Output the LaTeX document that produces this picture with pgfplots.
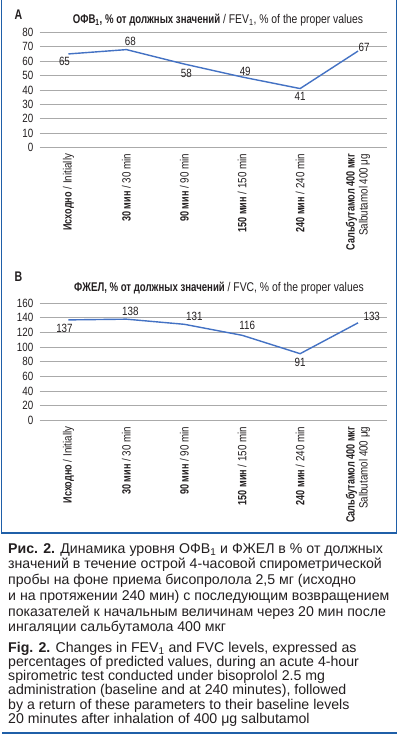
\documentclass[border=0pt]{standalone}
\usepackage{fontspec}
\usepackage{pgfplots}
\pgfplotsset{compat=1.18}
\setmainfont{Liberation Sans}
\newfontfamily\narrow{Liberation Sans}[FakeStretch=0.82, BoldFeatures={FakeStretch=0.76}]
\definecolor{lineblue}{HTML}{4472C4}
\definecolor{frameblue}{HTML}{1F5FA8}
\definecolor{gridgray}{HTML}{AAAAAA}
\definecolor{txt}{HTML}{231F20}

\newcommand{\tickfont}{\narrow\fontsize{12}{13}\selectfont}
\pgfplotsset{
  panel/.style={
    scale only axis, width=347.5bp,
    xmin=-0.5, xmax=5.5,
    axis line style={draw=none},
    ymajorgrids, major grid style={gridgray, line width=0.8bp},
    major tick length=0pt,
    xtick={0,...,5},
    xticklabels={{\bfseries Исходно} / Initially,{\bfseries 30 мин} / 30 min,{\bfseries 90 мин} / 90 min,{\bfseries 150 мин} / 150 min,{\bfseries 240 мин} / 240 min,{\bfseries Сальбутамол 400 мкг}\\Salbutamol 400 μg},
    xticklabel style={rotate=90, anchor=east, align=right, inner sep=0pt, font=\tickfont, text=txt},
    yticklabel style={inner sep=0pt, font=\tickfont, text=txt},
    xticklabel shift=6bp, yticklabel shift=6bp,
    /pgf/number format/assume math mode=true,
    clip=false,
  },
  lab/.style n args={3}{draw=none, mark=none, forget plot, nodes near coords, point meta=explicit symbolic,
    every node near coord/.append style={anchor=#1, xshift=#2, yshift=#3, font=\tickfont, text=txt}},
}

\begin{document}
\begin{tikzpicture}
\useasboundingbox (0,0) rectangle (399bp,-740bp);
\fill[white] (0,0) rectangle (399bp,-740bp);
\draw[frameblue, line width=1.3bp] (1.5bp,0) -- (1.5bp,-533bp) -- (396.5bp,-533bp) -- (396.5bp,0);
\draw[frameblue, line width=1.5bp] (2bp,-733bp) -- (397bp,-733bp);

\node[anchor=west, font=\narrow\bfseries\fontsize{14}{14}\selectfont, text=txt] at (11bp,-15bp) {A};
\node[anchor=base, font=\narrow\fontsize{12.7}{13}\selectfont, text=txt] at (218bp,-23.5bp) {{\bfseries ОФВ\textsubscript{1}, \% от должных значений} / FEV\textsubscript{1}, \% of the proper values};

\begin{axis}[panel, at={(39.5bp,-147.7bp)}, anchor=south west, height=115.4bp,
  ymin=0, ymax=80, ytick={0,10,...,80}]
\addplot[lineblue, line width=1.4bp, mark=none] coordinates {(0,65) (1,68) (2,58) (3,49) (4,41) (5,67)};
\addplot[lab={north}{-4bp}{0bp}] coordinates {(0,65) [65]};
\addplot[lab={south}{4bp}{0bp}] coordinates {(1,68) [68]};
\addplot[lab={north}{2bp}{-2bp}] coordinates {(2,58) [58]};
\addplot[lab={south}{3bp}{-2bp}] coordinates {(3,49) [49]};
\addplot[lab={north}{0bp}{0bp}] coordinates {(4,41) [41]};
\addplot[lab={west}{-3bp}{4bp}] coordinates {(5,67) [67]};
\end{axis}

\node[anchor=west, font=\narrow\bfseries\fontsize{14}{14}\selectfont, text=txt] at (11bp,-277bp) {B};
\node[anchor=base, font=\narrow\fontsize{12.7}{13}\selectfont, text=txt] at (219bp,-291.5bp) {{\bfseries ФЖЕЛ, \% от должных значений} / FVC, \% of the proper values};

\begin{axis}[panel, at={(39.5bp,-420.5bp)}, anchor=south west, height=117.5bp,
  ymin=0, ymax=160, ytick={0,20,...,160}]
\addplot[lineblue, line width=1.4bp, mark=none] coordinates {(0,137) (1,138) (2,131) (3,116) (4,91) (5,133)};
\addplot[lab={north}{-4bp}{-1bp}] coordinates {(0,137) [137]};
\addplot[lab={south}{4bp}{0bp}] coordinates {(1,138) [138]};
\addplot[lab={south}{10bp}{0bp}] coordinates {(2,131) [131]};
\addplot[lab={south}{5bp}{2bp}] coordinates {(3,116) [116]};
\addplot[lab={north}{0bp}{-1bp}] coordinates {(4,91) [91]};
\addplot[lab={west}{2bp}{6bp}] coordinates {(5,133) [133]};
\end{axis}

\node[anchor=north west, align=left, inner sep=0pt, text=txt, font=\fontsize{14.2}{15.8}\selectfont] at (8bp,-543bp) {%
\textbf{Рис. 2.} Динамика уровня ОФВ\textsubscript{1} и ФЖЕЛ в \% от должных\\
значений в течение острой 4-часовой спирометрической\\
пробы на фоне приема бисопролола 2,5 мг (исходно\\
и на протяжении 240 мин) с последующим возвращением\\
показателей к начальным величинам через 20 мин после\\
ингаляции сальбутамола 400 мкг};
\node[anchor=north west, align=left, inner sep=0pt, text=txt, font=\fontsize{14.2}{14.2}\selectfont] at (8bp,-642bp) {%
\textbf{Fig. 2.} Changes in FEV\textsubscript{1} and FVC levels, expressed as\\
percentages of predicted values, during an acute 4-hour\\
spirometric test conducted under bisoprolol 2.5 mg\\
administration (baseline and at 240 minutes), followed\\
by a return of these parameters to their baseline levels\\
20 minutes after inhalation of 400 μg salbutamol};
\end{tikzpicture}
\end{document}
